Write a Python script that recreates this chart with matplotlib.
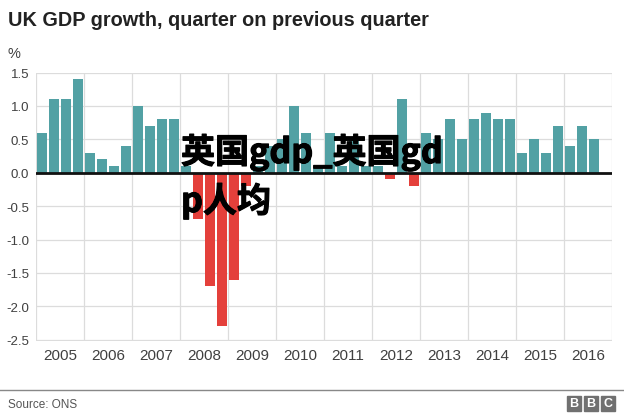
import matplotlib
matplotlib.use("Agg")
import matplotlib.pyplot as plt
import matplotlib.patheffects as pe
from matplotlib.patches import Rectangle

years = ["2005", "2006", "2007", "2008", "2009", "2010", "2011",
         "2012", "2013", "2014", "2015", "2016"]
growth = [0.6, 1.1, 1.1, 1.4,
          0.3, 0.2, 0.1, 0.4,
          1.0, 0.7, 0.8, 0.8,
          0.1, -0.7, -1.7, -2.3,
          -1.6, -0.2, 0.1, 0.4,
          0.5, 1.0, 0.6, 0.1,
          0.6, 0.1, 0.5, 0.1,
          0.1, -0.1, 1.1, -0.2,
          0.6, 0.5, 0.8, 0.5,
          0.8, 0.9, 0.8, 0.8,
          0.3, 0.5, 0.3, 0.7,
          0.4, 0.7, 0.5]
yticks = [1.5, 1.0, 0.5, 0.0, -0.5, -1.0, -1.5, -2.0, -2.5]
ytick_labels = ["1.5", "1.0", "0.5", "0.0", "-0.5", "-1.0", "-1.5", "-2.0", "-2.5"]

TEAL = "#52a1a4"
RED = "#e4403b"
TXT = "#404040"
FONT = ["Liberation Sans", "DejaVu Sans"]

W, H = 624, 414
fig = plt.figure(figsize=(W / 100, H / 100), dpi=100)
fig.patch.set_facecolor("white")

def fx(px):
    return px / W

def fy(py):
    return 1 - py / H

ax_left, ax_right, ax_top, ax_bot = 36, 612, 73.6, 342
ax = fig.add_axes([fx(ax_left), fy(ax_bot), (ax_right - ax_left) / W, (ax_bot - ax_top) / H])

xs = [i + 0.5 for i in range(len(growth))]
colors = [TEAL if v >= 0 else RED for v in growth]
ax.bar(xs, growth, width=0.84, color=colors, zorder=2)

ax.set_xlim(0, 4 * len(years))
ax.set_ylim(-2.52, 1.5)
ax.set_yticks(yticks)
ax.set_yticklabels(ytick_labels)
ax.set_xticks([4 * k + 2 for k in range(len(years))])
ax.set_xticklabels(years)
for lab in ax.get_yticklabels():
    lab.set_fontfamily(FONT)
    lab.set_fontsize(9.5)
    lab.set_color(TXT)
for lab in ax.get_xticklabels():
    lab.set_fontfamily(FONT)
    lab.set_fontsize(11)
    lab.set_color(TXT)
ax.tick_params(axis="both", length=0)
ax.tick_params(axis="y", pad=5)
ax.tick_params(axis="x", pad=5)

for k in range(len(years) + 1):
    ax.axvline(4 * k, color="#dcdcdc", lw=0.9, zorder=0)
for y in yticks:
    if y != 0:
        ax.axhline(y, color="#dcdcdc", lw=0.9, zorder=0)
ax.axhline(0, color="#111111", lw=2, zorder=3)
for s in ax.spines.values():
    s.set_visible(False)

fig.text(fx(8), fy(21), "UK GDP growth, quarter on previous quarter",
         fontsize=14.3, weight="bold", color="#222222", family=FONT, va="center", ha="left")
fig.text(fx(8), fy(54), "%", fontsize=10.5, color=TXT, family=FONT, va="center", ha="left")

# bottom rule and source
fig.add_artist(plt.Line2D([0, 1], [fy(391), fy(391)], color="#888888", lw=1))
fig.text(fx(8), fy(405), "Source: ONS", fontsize=8.5, color="#555555",
         family=FONT, va="center", ha="left")

# BBC blocks
for i, ch in enumerate("BBC"):
    x0 = 567 + i * 17
    fig.add_artist(Rectangle((fx(x0), fy(412)), 14 / W, 15 / H,
                             transform=fig.transFigure, color="#707070"))
    fig.text(fx(x0 + 7), fy(404.5), ch, fontsize=9, color="white", weight="bold",
             family=FONT, va="center", ha="center")

# overlaid watermark text
WM = ["Noto Sans CJK SC", "DejaVu Sans"]
stroke = [pe.withStroke(linewidth=0.8, foreground="black")]
fig.text(fx(181), fy(153), "英国gdp_英国gd", fontsize=24.5, weight=900,
         color="black", family=WM, va="center", ha="left", zorder=10,
         path_effects=stroke)
fig.text(fx(181), fy(202), "p人均", fontsize=24.5, weight=900,
         color="black", family=WM, va="center", ha="left", zorder=10,
         path_effects=stroke)

fig.savefig("out.png", dpi=100, facecolor="white")
